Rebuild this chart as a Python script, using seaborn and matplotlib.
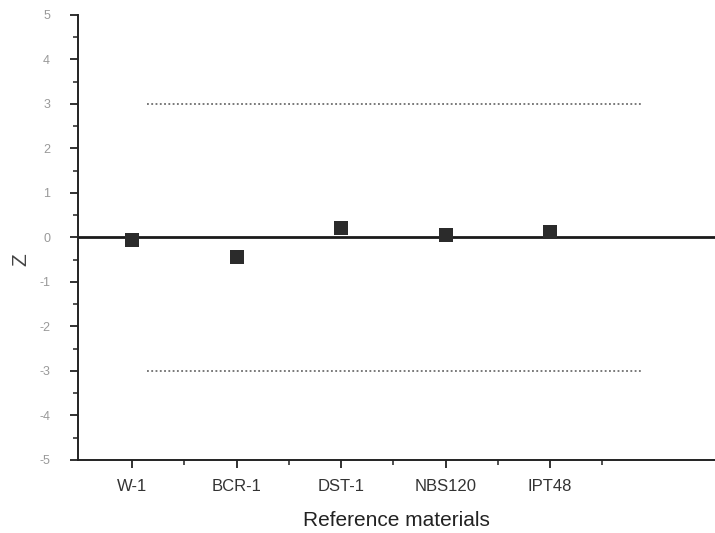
import matplotlib
matplotlib.use("Agg")
import matplotlib.pyplot as plt
import seaborn as sns
import pandas as pd
from matplotlib.ticker import MultipleLocator, FixedLocator

materials = ["W-1", "BCR-1", "DST-1", "NBS120", "IPT48"]
z_values = [-0.05, -0.43, 0.22, 0.06, 0.13]
y_ticks = [-5, -4, -3, -2, -1, 0, 1, 2, 3, 4, 5]
limit_lines = [3, -3]

sns.set_style("ticks")
plt.rcParams['font.family'] = ['Liberation Sans', 'DejaVu Sans']

fig = plt.figure(figsize=(7.15, 5.33), dpi=100)
ax = fig.add_axes([0.109, 0.137, 0.891, 0.835])

df = pd.DataFrame({"material": materials, "pos": range(len(materials)), "z": z_values})

ax.axhline(0, color="#1a1a1a", lw=2, zorder=1)
for v in limit_lines:
    ax.hlines(v, 0.14, 4.88, colors="#555555", linestyles=(0, (1.2, 1.6)), lw=1.1, zorder=1)

sns.scatterplot(data=df, x="pos", y="z", marker="s", s=110, color="#2b2b2b",
                edgecolor="#2b2b2b", linewidth=0, ax=ax, zorder=3, legend=False)

ax.set_xlim(-0.52, 5.58)
ax.set_ylim(-5, 5)
ax.set_xticks(range(len(materials)))
ax.set_xticklabels(materials, fontsize=12)
ax.xaxis.set_minor_locator(FixedLocator([0.5, 1.5, 2.5, 3.5, 4.5]))
ax.set_yticks(y_ticks)
ax.set_yticklabels([str(t) for t in y_ticks], fontsize=9)
ax.yaxis.set_minor_locator(MultipleLocator(0.5))

ax.tick_params(axis="both", which="major", direction="out", length=6, width=1.3,
               color="#222222", left=True, bottom=True)
ax.tick_params(axis="x", which="major", labelcolor="#333333", pad=8)
ax.tick_params(axis="y", which="major", labelcolor="#999999", pad=14)
ax.tick_params(axis="both", which="minor", direction="out", length=3.5, width=1.1,
               color="#222222", left=True, bottom=True)

for s in ["top", "right"]:
    ax.spines[s].set_visible(False)
for s in ["left", "bottom"]:
    ax.spines[s].set_color("#222222")
    ax.spines[s].set_linewidth(1.4)

ax.set_xlabel("Reference materials", fontsize=15, color="#222222", labelpad=12)
ax.set_ylabel("Z", fontsize=15, color="#444444", labelpad=6)
ax.yaxis.set_label_coords(-0.075, 0.45)

fig.savefig("out.png", dpi=100)
